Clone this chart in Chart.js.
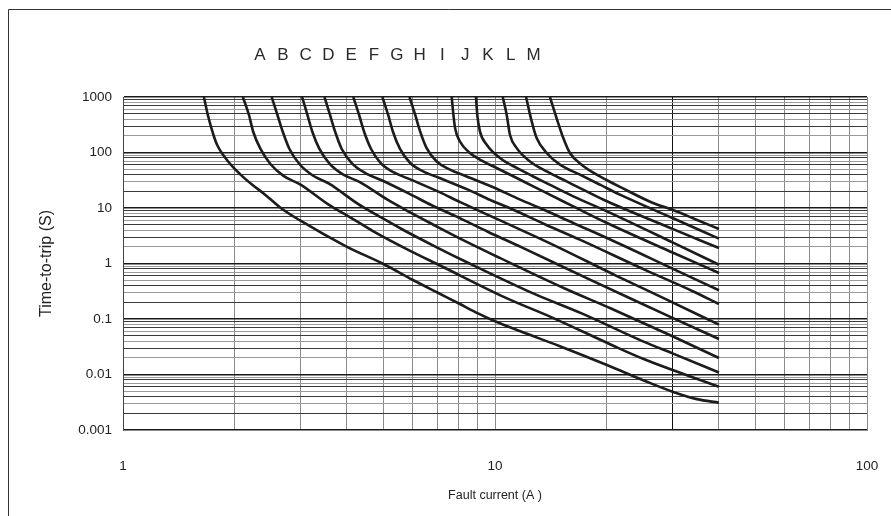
<!DOCTYPE html>
<html>
<head>
<meta charset="utf-8">
<script src="https://cdn.jsdelivr.net/npm/chart.js@4.4.1/dist/chart.umd.min.js"></script>
<style>
  html, body { margin: 0; background: #fff; }
  #wrap { width: 891px; height: 516px; position: relative; }
</style>
</head>
<body>
<div id="wrap"><canvas id="chart"></canvas></div>
<script>
// curve letters, left to right along the top
const curveNames = ['A', 'B', 'C', 'D', 'E', 'F', 'G', 'H', 'I', 'J', 'K', 'L', 'M'];

// fault current (A) and time-to-trip (s)
const iA = [1.65, 1.69, 1.75, 1.79, 1.92, 2.07, 2.23, 2.41, 2.65, 3, 4, 5, 6, 7, 8, 9, 10, 11.7, 15, 20, 25.6, 30, 34.9, 40];
const tA = [1000, 480, 209, 138, 68, 40, 26, 17.4, 10.1, 5.9, 2.0, 0.99, 0.51, 0.30, 0.19, 0.126, 0.091, 0.060, 0.032, 0.0148, 0.0074, 0.0049, 0.0036, 0.0031];

const iB = [2.10, 2.18, 2.24, 2.34, 2.49, 2.70, 3.0, 3.57, 4.08, 4.71, 5.79, 7.14, 10.7, 14.3, 20.8, 25.1, 40];
const tB = [1000, 479, 234, 117, 62, 38, 26.3, 11.5, 6.8, 3.8, 1.82, 0.91, 0.24, 0.105, 0.033, 0.019, 0.006];

const iC = [2.51, 2.60, 2.69, 2.80, 2.98, 3.23, 3.58, 4.27, 4.88, 5.64, 6.93, 8.54, 12.8, 17.1, 24.9, 30, 40];
const tC = [1000, 479, 234, 117, 62, 38.9, 27.5, 12, 7.1, 4.1, 2.0, 1.0, 0.28, 0.126, 0.040, 0.024, 0.0109];

const iD = [3.03, 3.13, 3.23, 3.37, 3.59, 3.89, 4.32, 5.14, 5.88, 6.79, 8.34, 10.3, 15.4, 20.5, 30, 40];
const tD = [1000, 479, 234, 117, 63, 40.7, 29.5, 14.1, 8.5, 5.1, 2.5, 1.26, 0.355, 0.155, 0.049, 0.0198];

const iE = [3.48, 3.60, 3.72, 3.87, 4.12, 4.48, 4.96, 5.91, 6.76, 7.81, 9.59, 11.8, 17.7, 23.6, 30, 40];
const tE = [1000, 479, 234, 117, 64.6, 42.7, 31.6, 17.8, 11.2, 7.2, 3.7, 1.95, 0.54, 0.22, 0.105, 0.0436];

const iF = [4.16, 4.31, 4.45, 4.64, 4.93, 5.35, 5.94, 7.07, 8.09, 9.34, 11.5, 14.2, 21.2, 28.3, 40];
const tF = [1000, 479, 234, 117, 64.6, 43.7, 32.4, 19.5, 12.6, 8.1, 4.3, 2.24, 0.60, 0.24, 0.079];

const iG = [4.98, 5.16, 5.32, 5.55, 5.90, 6.41, 7.10, 8.46, 9.68, 11.2, 13.7, 16.9, 25.4, 33.9, 40];
const tG = [1000, 479, 234, 117, 66, 45.7, 34.7, 21.4, 14.1, 9.3, 5.0, 2.69, 0.76, 0.32, 0.186];

const iH = [5.89, 6.10, 6.29, 6.55, 6.97, 7.57, 8.39, 10, 11.44, 13.21, 16.23, 20, 30, 40];
const tH = [1000, 480, 240, 120, 69, 49, 37, 22.9, 15.1, 10, 5.37, 2.88, 0.81, 0.33];

const iI = [7.65, 7.73, 7.81, 8.05, 8.57, 9.30, 10.1, 11.44, 12.67, 14.34, 16.23, 20, 30, 40];
const tI = [1000, 480, 276, 158, 98, 69, 52.6, 34.7, 24.5, 16.2, 10.7, 5.37, 1.58, 0.675];

const iJ = [8.89, 8.96, 9.11, 9.50, 10.31, 11.44, 12.67, 14.34, 16.23, 20, 30, 40];
const tJ = [1000, 480, 240, 138, 79.6, 52.6, 37, 24.5, 16.2, 8.7, 2.4, 0.95];

const iK = [10.49, 10.75, 10.97, 11.44, 12.42, 13.77, 15.58, 17.63, 20, 30, 40];
const tK = [1000, 480, 209, 120, 69, 45.6, 30.1, 19.9, 13.2, 4.2, 1.9];

const iL = [12.12, 12.55, 12.94, 13.77, 14.95, 16.92, 19.15, 21.67, 30, 40];
const tL = [1000, 363, 182, 98, 60.3, 39.8, 26.3, 17.4, 6.6, 2.8];

const iM = [14.05, 14.64, 15.26, 15.9, 17.1, 18.76, 20, 21.67, 26.6, 30, 34.8, 40];
const tM = [1000, 417, 182, 98, 60.3, 39.8, 31.6, 24, 12.3, 9.3, 6.15, 4.19];

const curves = [[iA, tA], [iB, tB], [iC, tC], [iD, tD], [iE, tE], [iF, tF], [iG, tG],
                [iH, tH], [iI, tI], [iJ, tJ], [iK, tK], [iL, tL], [iM, tM]];

const FONT = '"Liberation Sans", Arial, sans-serif';

// 1..9 in every decade, no 1.5 steps
function decadeTicks(lo, hi) {
  const out = [];
  for (let e = lo; e < hi; e++) {
    for (let m = 1; m < 10; m++) out.push({ value: +(m * Math.pow(10, e)).toPrecision(6) });
  }
  out.push({ value: Math.pow(10, hi) });
  return out;
}

function isDecade(v) {
  const l = Math.log10(v);
  return Math.abs(l - Math.round(l)) < 1e-9;
}

function fmt(v) {
  return v >= 1 ? String(Math.round(v)) : v.toFixed(Math.round(-Math.log10(v)));
}

const letters = {
  id: 'letters',
  afterDraw(chart) {
    const ctx = chart.ctx;
    ctx.save();
    ctx.font = '17px ' + FONT;
    ctx.fillStyle = '#2a2a2a';
    ctx.textAlign = 'center';
    ctx.textBaseline = 'middle';
    curveNames.forEach((n, i) => ctx.fillText(n, 260 + i * 22.8, 55));
    ctx.restore();
  }
};

const frame = {
  id: 'frame',
  beforeDraw(chart) {
    const ctx = chart.ctx;
    ctx.save();
    ctx.strokeStyle = '#333';
    ctx.lineWidth = 1;
    ctx.beginPath();
    ctx.moveTo(8.5, 516);
    ctx.lineTo(8.5, 9.5);
    ctx.lineTo(891, 9.5);
    ctx.stroke();
    ctx.restore();
  }
};

new Chart(document.getElementById('chart'), {
  type: 'line',
  data: {
    datasets: curves.map(([xs, ys], k) => ({
      label: curveNames[k],
      data: xs.map((x, i) => ({ x, y: ys[i] })),
      borderColor: '#1c1c1c',
      borderWidth: 2.6,
      pointRadius: 0,
      fill: false,
      cubicInterpolationMode: 'monotone'
    }))
  },
  options: {
    responsive: true,
    maintainAspectRatio: false,
    animation: false,
    layout: { padding: { top: 97, right: 24, left: 0, bottom: 0 } },
    plugins: { legend: { display: false }, tooltip: { enabled: false } },
    scales: {
      x: {
        type: 'logarithmic',
        min: 1,
        max: 100,
        afterBuildTicks: s => { s.ticks = decadeTicks(0, 2); },
        afterFit: s => { s.height = 86; s.paddingLeft = 0; s.paddingRight = 0; },
        ticks: {
          autoSkip: false,
          maxRotation: 0,
          padding: 28,
          color: '#222',
          font: { family: FONT, size: 13.5 },
          callback: v => isDecade(v) ? fmt(v) : ''
        },
        grid: {
          drawTicks: false,
          color: c => (c.tick && c.tick.value === 30) ? '#111' : '#8a8a8a',
          lineWidth: 1
        },
        border: { color: '#8a8a8a' },
        title: {
          display: true,
          text: 'Fault current (A )',
          color: '#222',
          font: { family: FONT, size: 12.5 },
          padding: { top: 0, bottom: 12.5 }
        }
      },
      y: {
        type: 'logarithmic',
        min: 0.001,
        max: 1000,
        afterBuildTicks: s => { s.ticks = decadeTicks(-3, 3); },
        afterFit: s => { s.width = 123; s.paddingTop = 0; s.paddingBottom = 0; },
        ticks: {
          autoSkip: false,
          padding: 11,
          color: '#222',
          font: { family: FONT, size: 13.5 },
          callback: v => isDecade(v) ? fmt(v) : ''
        },
        grid: {
          drawTicks: false,
          color: c => {
            if (!c.tick) return '#333';
            if (isDecade(c.tick.value)) return '#1a1a1a';
            return c.index % 2 ? '#3a3a3a' : '#9a9a9a';
          },
          lineWidth: c => (c.tick && isDecade(c.tick.value)) ? 1.6 : 1
        },
        border: { color: '#444' },
        title: {
          display: true,
          text: 'Time-to-trip (S)',
          color: '#222',
          font: { family: FONT, size: 16 },
          padding: { top: 37, bottom: 0 }
        }
      }
    }
  },
  plugins: [frame, letters]
});
</script>
</body>
</html>
